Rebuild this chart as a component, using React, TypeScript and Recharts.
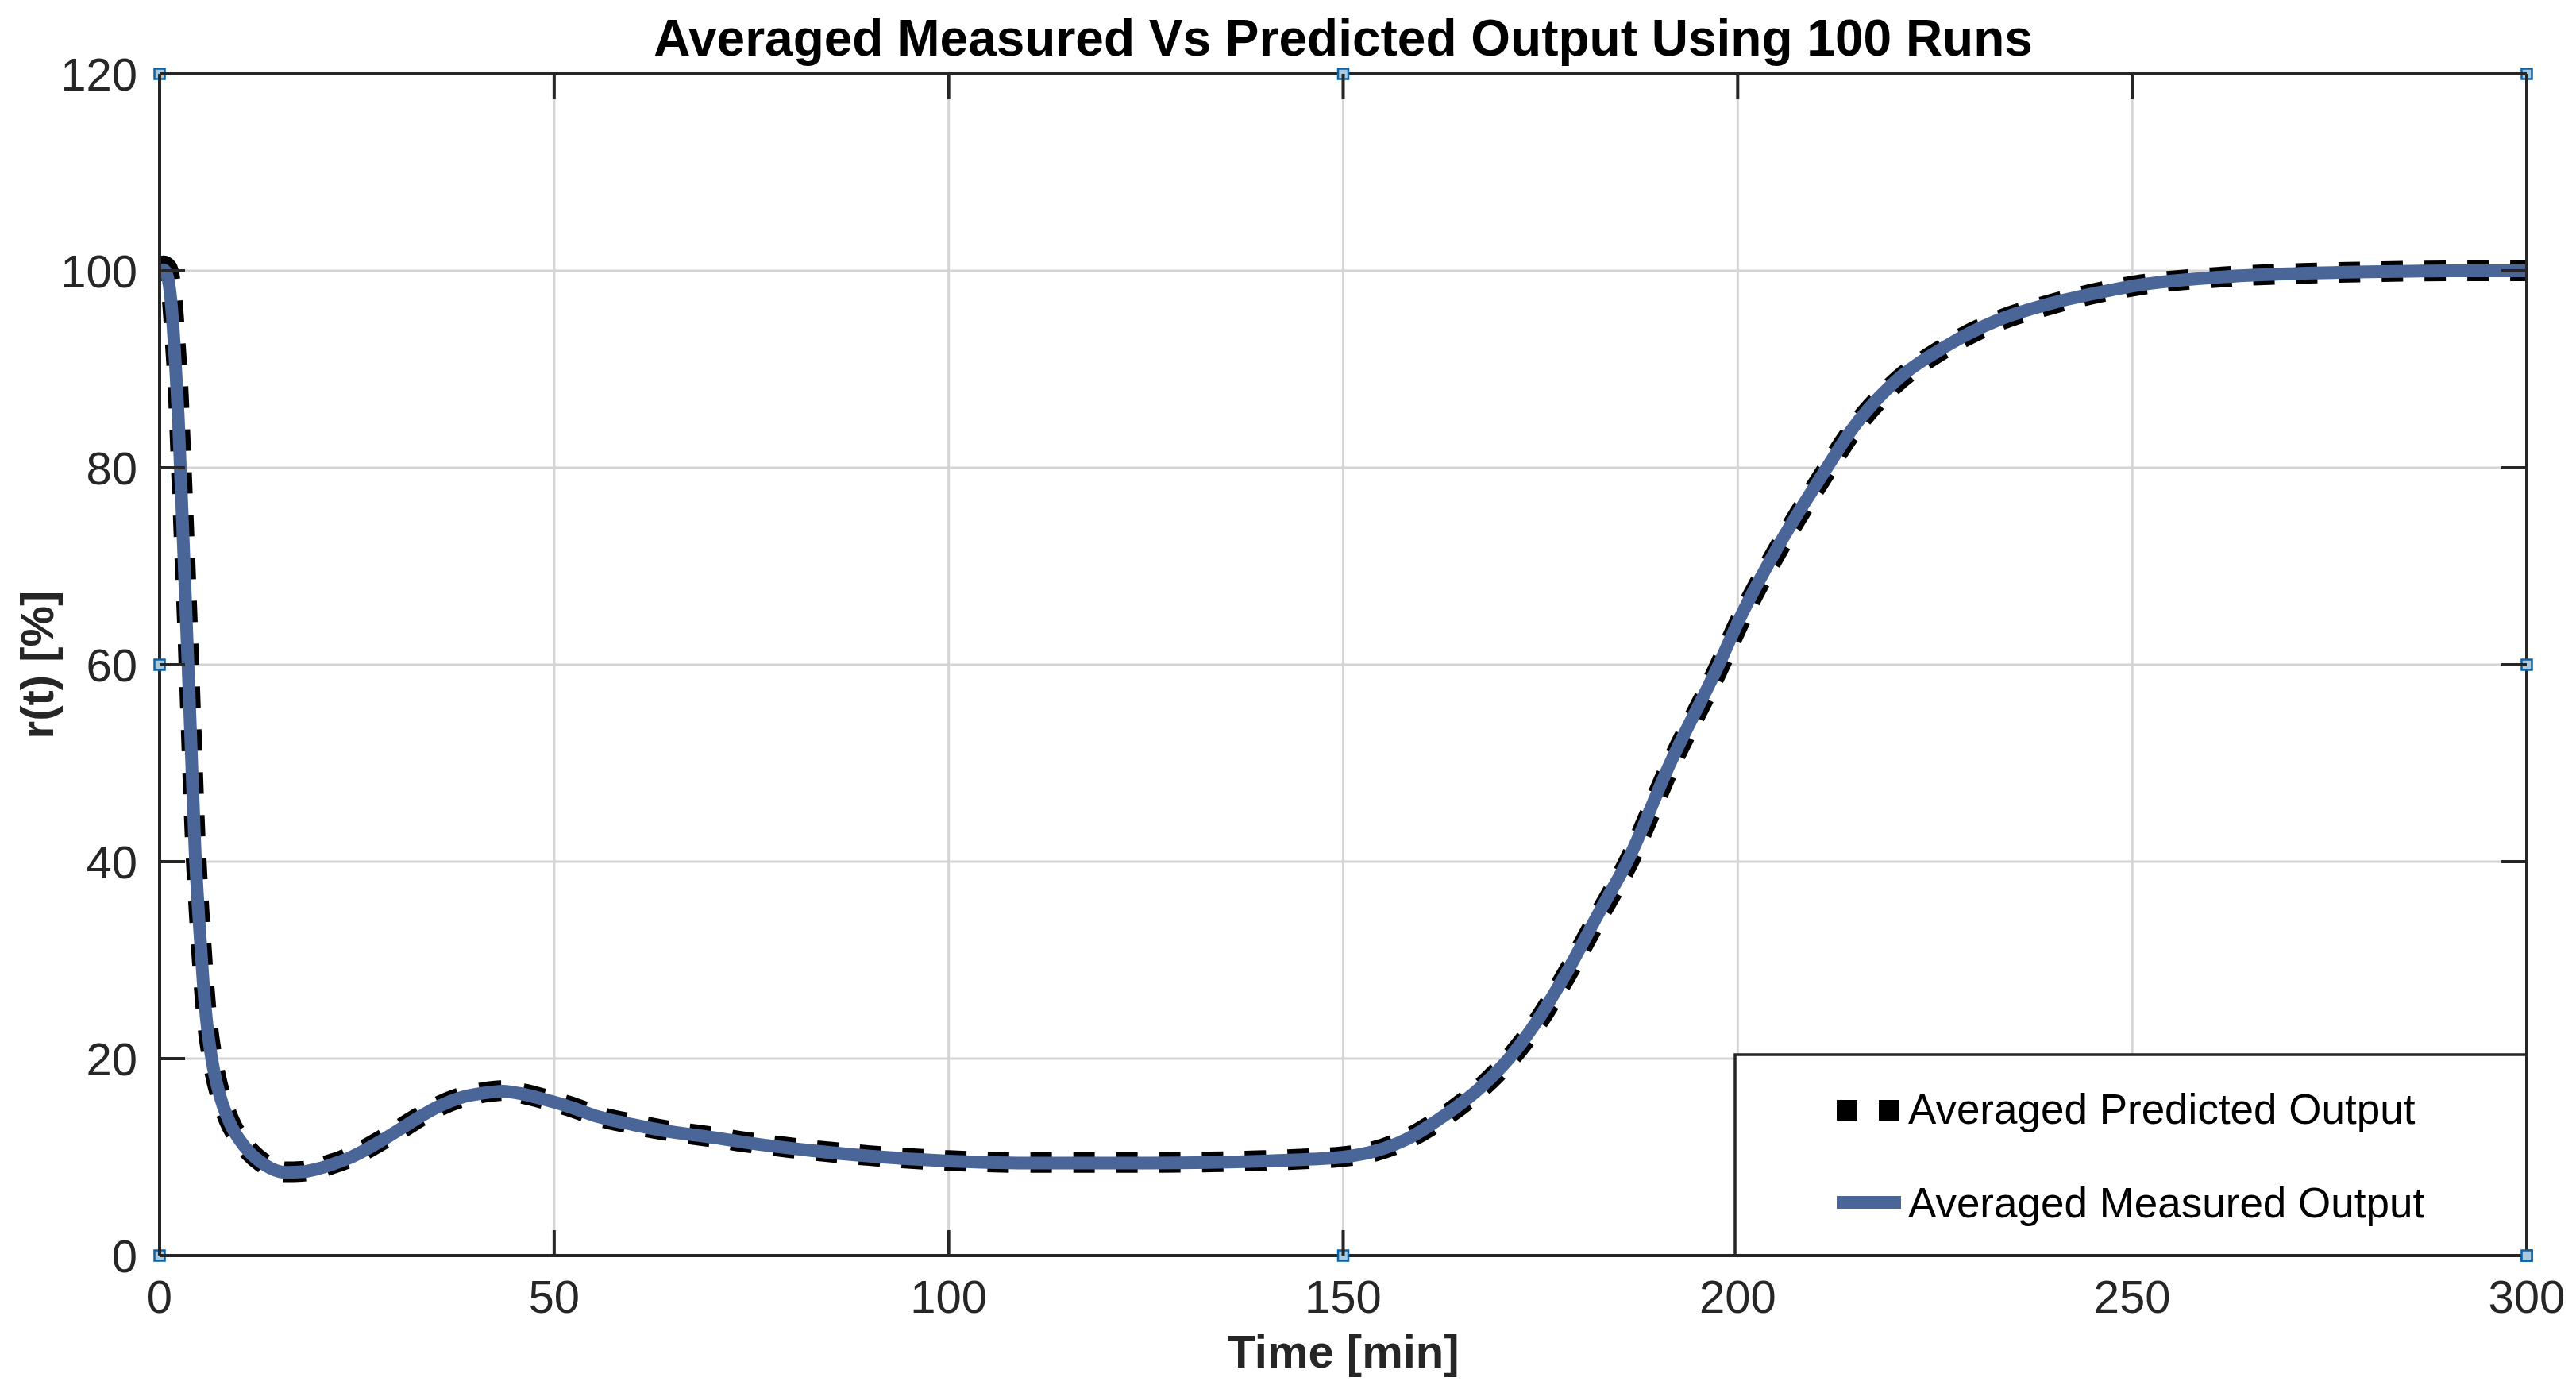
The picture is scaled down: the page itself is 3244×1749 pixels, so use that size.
import React from 'react';
import { LineChart, Line, XAxis, YAxis, CartesianGrid, ReferenceLine, ReferenceDot } from 'recharts';

// ---- data ----
const time = [0, 0.5, 1, 1.6, 2, 2.4, 2.6, 3, 3.6, 4, 4.5, 5, 5.5, 6, 6.6, 7, 8, 9, 10, 11.5, 13, 14, 16, 18, 20, 22, 24, 26, 28.6, 31, 33, 35.5, 38, 41, 43.5, 46, 49, 52, 55.6, 60, 64.6, 70, 75, 80, 90, 100, 110, 125, 140, 146, 150, 154, 158, 162.6, 167.3, 171, 174.3, 178, 182.4, 186, 191.5, 197.6, 200.2, 204.9, 211.3, 214.3, 219.6, 226.3, 233, 239.7, 246.4, 251.2, 260, 270, 280, 290, 300];
const measured = [100, 100.1, 99.4, 95.5, 90.5, 84.5, 80.5, 72.5, 60, 51.5, 41, 34, 28, 23.5, 20, 18.3, 15.3, 13.3, 11.9, 10.4, 9.4, 8.9, 8.45, 8.5, 8.8, 9.3, 9.9, 10.7, 11.9, 13.1, 14.1, 15.2, 16.0, 16.5, 16.7, 16.4, 15.8, 15.1, 14.1, 13.3, 12.6, 12.0, 11.4, 10.9, 10.1, 9.6, 9.4, 9.4, 9.6, 9.8, 10.0, 10.6, 11.8, 14.1, 17.0, 20, 23.5, 28.3, 34.8, 40, 50.1, 60, 64.6, 71.7, 80, 83.7, 88.5, 92.3, 95.0, 96.7, 97.9, 98.6, 99.3, 99.7, 99.9, 100, 100];
const predicted = [100.2, 100.5, 100.2, 97, 92.5, 87, 83, 75, 62.5, 53.5, 42.5, 35, 28.8, 24, 20.4, 18.6, 15.5, 13.4, 12.0, 10.5, 9.45, 8.95, 8.5, 8.55, 8.85, 9.35, 9.95, 10.75, 11.95, 13.1, 14.1, 15.2, 16.0, 16.55, 16.75, 16.45, 15.85, 15.15, 14.15, 13.35, 12.65, 12.05, 11.45, 10.95, 10.15, 9.65, 9.45, 9.45, 9.65, 9.85, 10.05, 10.6, 11.8, 14.0, 16.9, 19.9, 23.3, 28.1, 34.5, 39.7, 49.8, 59.7, 64.3, 71.4, 79.8, 83.5, 88.3, 92.2, 94.9, 96.6, 97.9, 98.6, 99.3, 99.7, 99.9, 100, 100];

const xTicks = [0, 50, 100, 150, 200, 250, 300];
const yTicks = [0, 20, 40, 60, 80, 100, 120];
const seriesNames = ['Averaged Predicted Output', 'Averaged Measured Output'];
const titleText = 'Averaged Measured Vs Predicted Output Using 100 Runs';
const xLabelText = 'Time [min]';
const yLabelText = 'r(t) [%]';
const handleX = [0, 150, 300, 0, 300, 0, 150, 300];
const handleY = [120, 120, 120, 60, 60, 0, 0, 0];

const data = time.map((t, i) => ({ t, measured: measured[i], predicted: predicted[i] }));

// ---- layout ----
const W = 3244;
const H = 1749;
const PLOT_LEFT = 201;
const PLOT_RIGHT = 3182;
const PLOT_TOP = 93;
const PLOT_BOTTOM = 1581;
const Y_AXIS_W = 120;
const X_AXIS_H = 80;
const TICK = 32;
const FONT = '"Liberation Sans", Arial, Helvetica, sans-serif';
const AX = '#262626';
const BLUE = '#4A6598';

const XTick = (props: any) => {
  const { x, y, payload } = props;
  return (
    <g>
      <line x1={x} y1={y} x2={x} y2={y - TICK} stroke={AX} strokeWidth={4} />
      <line x1={x} y1={PLOT_TOP} x2={x} y2={PLOT_TOP + TICK} stroke={AX} strokeWidth={4} />
      <text x={x} y={y + 72} textAnchor="middle" fontFamily={FONT} fontSize={58} fill={AX}>
        {payload.value}
      </text>
    </g>
  );
};

const YTick = (props: any) => {
  const { x, y, payload } = props;
  return (
    <g>
      <line x1={x} y1={y} x2={x + TICK} y2={y} stroke={AX} strokeWidth={4} />
      <line x1={PLOT_RIGHT - TICK} y1={y} x2={PLOT_RIGHT} y2={y} stroke={AX} strokeWidth={4} />
      <text x={x - 28} y={y + 21} textAnchor="end" fontFamily={FONT} fontSize={58} fill={AX}>
        {payload.value}
      </text>
    </g>
  );
};

const Handle = (props: any) => {
  const { cx, cy } = props;
  return <rect x={cx - 6.5} y={cy - 6.5} width={13} height={13} fill="#a9c9de" stroke="#0b62a8" strokeWidth={2.5} />;
};

export default function App() {
  return (
    <div style={{ position: 'absolute', left: 0, top: 0, width: W, height: H, background: '#fff' }}>
      <LineChart
        width={W}
        height={H}
        data={data}
        margin={{ left: PLOT_LEFT - Y_AXIS_W, right: W - PLOT_RIGHT, top: PLOT_TOP, bottom: H - PLOT_BOTTOM - X_AXIS_H }}
      >
        <CartesianGrid stroke="#d4d4d4" strokeWidth={3} horizontalValues={yTicks} verticalValues={xTicks} />
        <XAxis
          dataKey="t"
          type="number"
          domain={[0, 300]}
          ticks={xTicks}
          interval={0}
          height={X_AXIS_H}
          tickSize={0}
          tickMargin={0}
          tickLine={false}
          axisLine={{ stroke: AX, strokeWidth: 4 }}
          tick={<XTick />}
          allowDataOverflow
        />
        <YAxis
          type="number"
          domain={[0, 120]}
          ticks={yTicks}
          interval={0}
          width={Y_AXIS_W}
          tickSize={0}
          tickMargin={0}
          tickLine={false}
          axisLine={{ stroke: AX, strokeWidth: 4 }}
          tick={<YTick />}
        />
        <Line
          type="monotone"
          dataKey="predicted"
          name={seriesNames[0]}
          stroke="#000"
          strokeWidth={26}
          strokeDasharray="27 27"
          dot={false}
          activeDot={false}
          isAnimationActive={false}
        />
        <Line
          type="monotone"
          dataKey="measured"
          name={seriesNames[1]}
          stroke={BLUE}
          strokeWidth={16}
          dot={false}
          activeDot={false}
          isAnimationActive={false}
        />
        <ReferenceLine y={120} stroke={AX} strokeWidth={4} ifOverflow="visible" />
        <ReferenceLine x={300} stroke={AX} strokeWidth={4} ifOverflow="visible" />
        {handleX.map((hx, i) => (
          <ReferenceDot key={i} x={hx} y={handleY[i]} r={7} ifOverflow="visible" shape={<Handle />} />
        ))}
      </LineChart>
      <svg width={W} height={H} style={{ position: 'absolute', left: 0, top: 0, pointerEvents: 'none' }}>
        <text x={(PLOT_LEFT + PLOT_RIGHT) / 2} y={70} textAnchor="middle" fontFamily={FONT} fontWeight="bold" fontSize={64} fill="#000">
          {titleText}
        </text>
        <text x={(PLOT_LEFT + PLOT_RIGHT) / 2} y={1722} textAnchor="middle" fontFamily={FONT} fontWeight="bold" fontSize={58} fill={AX}>
          {xLabelText}
        </text>
        <text
          x={67}
          y={(PLOT_TOP + PLOT_BOTTOM) / 2}
          textAnchor="middle"
          fontFamily={FONT}
          fontWeight="bold"
          fontSize={58}
          fill={AX}
          transform={`rotate(-90, 67, ${(PLOT_TOP + PLOT_BOTTOM) / 2})`}
        >
          {yLabelText}
        </text>
        <g>
          <rect x={2185} y={1328} width={PLOT_RIGHT - 2185} height={PLOT_BOTTOM - 1328} fill="#fff" stroke={AX} strokeWidth={3.5} />
          <line x1={2313} y1={1398} x2={2394} y2={1398} stroke="#000" strokeWidth={26} strokeDasharray="26 27" />
          <text x={2403} y={1415} fontFamily={FONT} fontSize={53} fill="#000">{seriesNames[0]}</text>
          <line x1={2313} y1={1514} x2={2394} y2={1514} stroke={BLUE} strokeWidth={16} />
          <text x={2403} y={1533} fontFamily={FONT} fontSize={53} fill="#000">{seriesNames[1]}</text>
        </g>
        <line x1={2185} y1={PLOT_BOTTOM} x2={PLOT_RIGHT} y2={PLOT_BOTTOM} stroke={AX} strokeWidth={4} />
        <line x1={PLOT_RIGHT} y1={1328} x2={PLOT_RIGHT} y2={PLOT_BOTTOM} stroke={AX} strokeWidth={4} />
        <rect x={PLOT_RIGHT - 6.5} y={PLOT_BOTTOM - 6.5} width={13} height={13} fill="#a9c9de" stroke="#0b62a8" strokeWidth={2.5} />
      </svg>
    </div>
  );
}
